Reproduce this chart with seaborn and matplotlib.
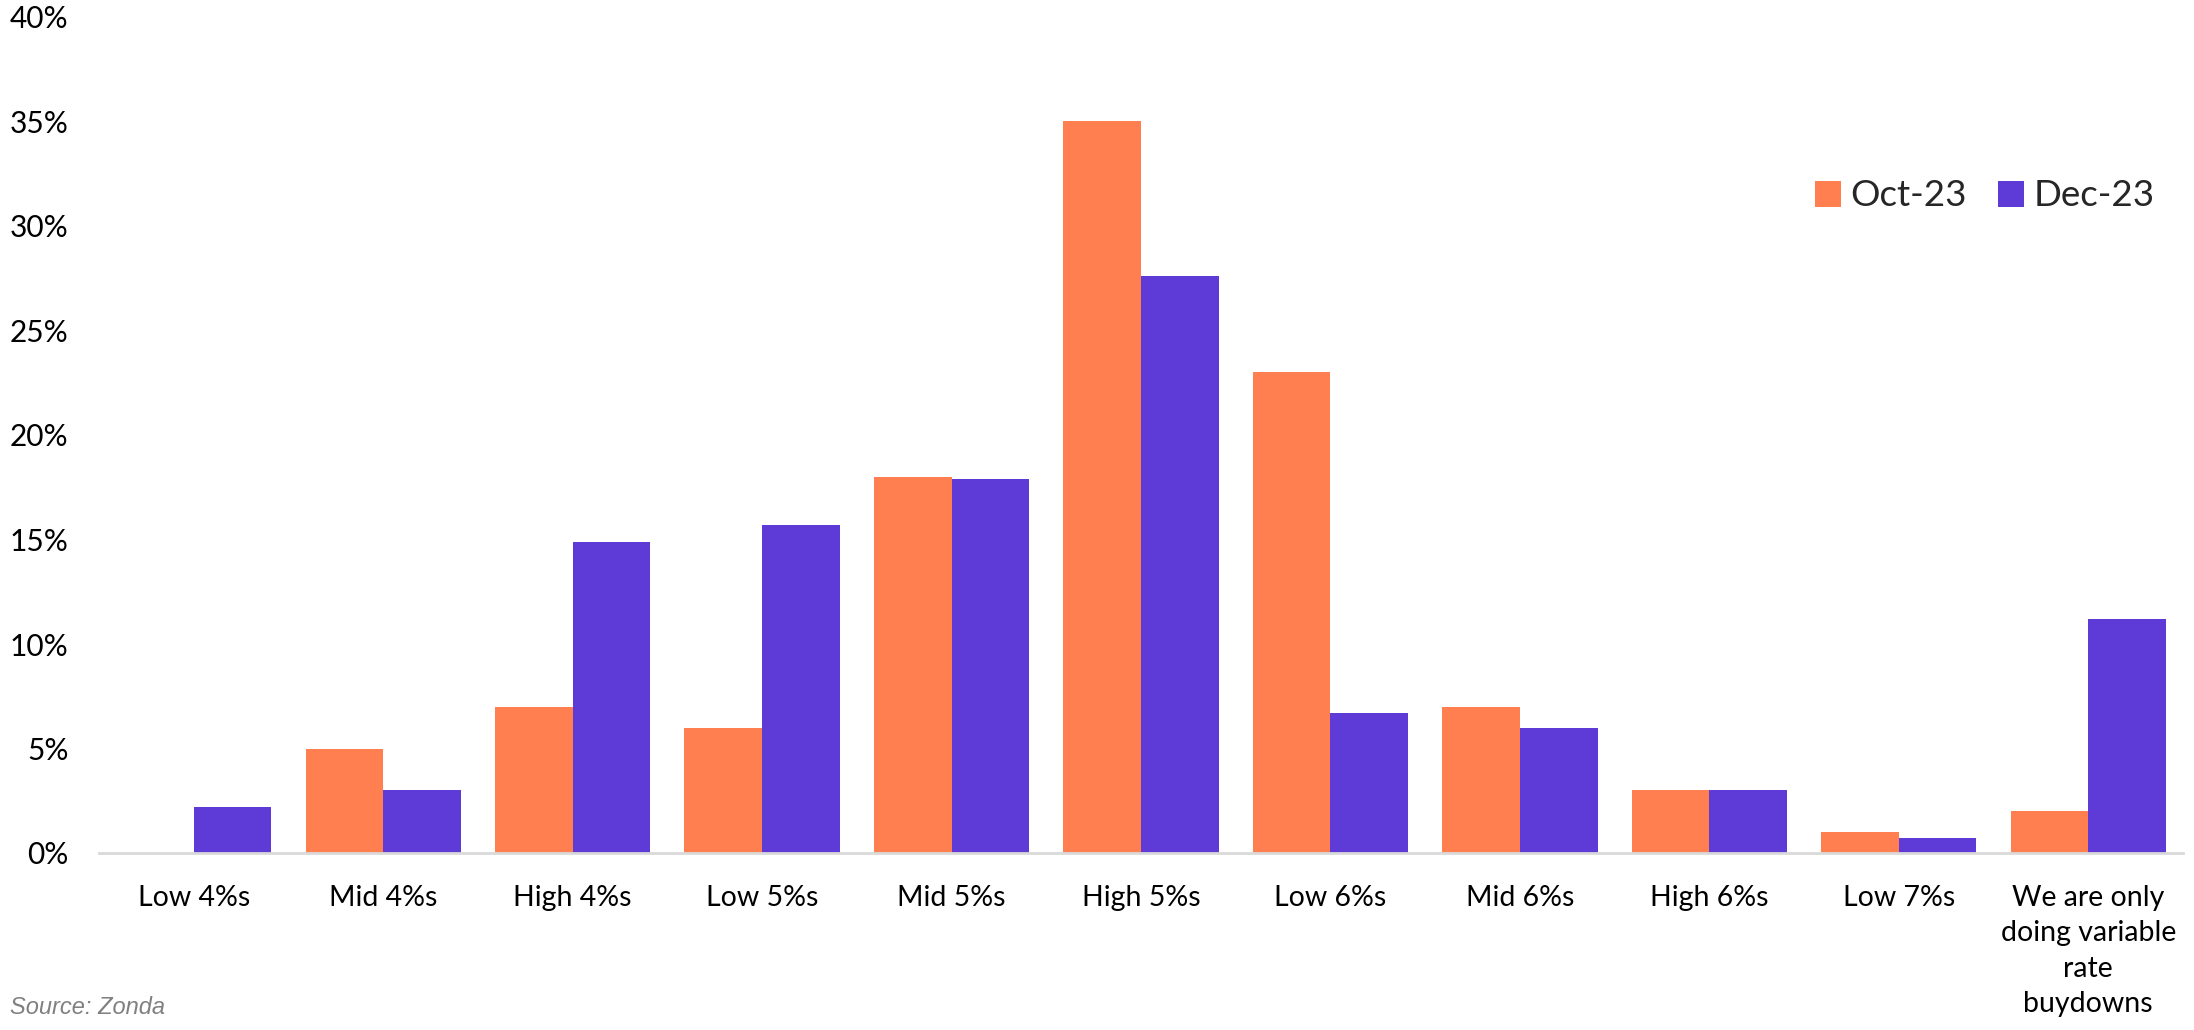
import matplotlib
matplotlib.use("Agg")
import matplotlib.pyplot as plt
import seaborn as sns
import pandas as pd
from matplotlib.patches import Patch
from matplotlib.ticker import FuncFormatter

categories = ["Low 4%s", "Mid 4%s", "High 4%s", "Low 5%s", "Mid 5%s", "High 5%s",
              "Low 6%s", "Mid 6%s", "High 6%s", "Low 7%s",
              "We are only\ndoing variable\nrate\nbuydowns"]
oct_23 = [0.0, 5.0, 7.0, 6.0, 18.0, 35.0, 23.0, 7.0, 3.0, 1.0, 2.0]
dec_23 = [2.2, 3.0, 14.9, 15.7, 17.9, 27.6, 6.7, 6.0, 3.0, 0.7, 11.2]
series_names = ["Oct-23", "Dec-23"]
y_ticks = [0, 5, 10, 15, 20, 25, 30, 35, 40]

colors = {"Oct-23": "#FF7F50", "Dec-23": "#5E3BD6"}

df = pd.DataFrame({
    "category": categories * 2,
    "value": oct_23 + dec_23,
    "series": [series_names[0]] * len(categories) + [series_names[1]] * len(categories),
})

sns.set_style("white")
plt.rcParams["font.family"] = ["Lato", "DejaVu Sans"]

fig = plt.figure(figsize=(21.94, 10.30), dpi=100)
ax = fig.add_axes([99 / 2194, 1 - 853 / 1030, (2183 - 99) / 2194, (853 - 17) / 1030])

sns.barplot(data=df, x="category", y="value", hue="series", order=categories,
            hue_order=series_names, palette=colors, width=0.82, gap=0,
            saturation=1, ax=ax, legend=False, linewidth=0)

ax.set_xlim(-0.5, len(categories) - 0.5)
ax.set_ylim(0, 40)
ax.set_yticks(y_ticks)
ax.yaxis.set_major_formatter(FuncFormatter(lambda v, p: f"{v:.0f}%"))
ax.set_xlabel("")
ax.set_ylabel("")

for side in ["top", "right", "left"]:
    ax.spines[side].set_visible(False)
ax.spines["bottom"].set_color("#D9D9D9")
ax.spines["bottom"].set_linewidth(2)

ax.tick_params(axis="y", length=0, pad=22, labelsize=21.5, labelcolor="#000000")
ax.tick_params(axis="x", length=0, pad=23, labelsize=20.5, labelcolor="#000000")
for lbl in ax.get_xticklabels():
    lbl.set_linespacing(1.45)
    lbl.set_horizontalalignment("center")

handles = [Patch(facecolor=colors[s], edgecolor="none", label=s) for s in series_names]
ax.legend(handles=handles, loc="center right", bbox_to_anchor=(0.997, 1 - (196 - 17) / (853 - 17)),
          ncol=2, frameon=False, fontsize=26.5, handlelength=0.72, handleheight=0.72,
          handletextpad=0.25, columnspacing=0.85, borderaxespad=0.2)

fig.text(10 / 2194, 1 - 1007 / 1030, "Source: Zonda", fontsize=17, style="italic",
         color="#808080", family=["Liberation Sans", "DejaVu Sans"], va="center", ha="left")

fig.savefig("out.png", dpi=100, facecolor="white")
